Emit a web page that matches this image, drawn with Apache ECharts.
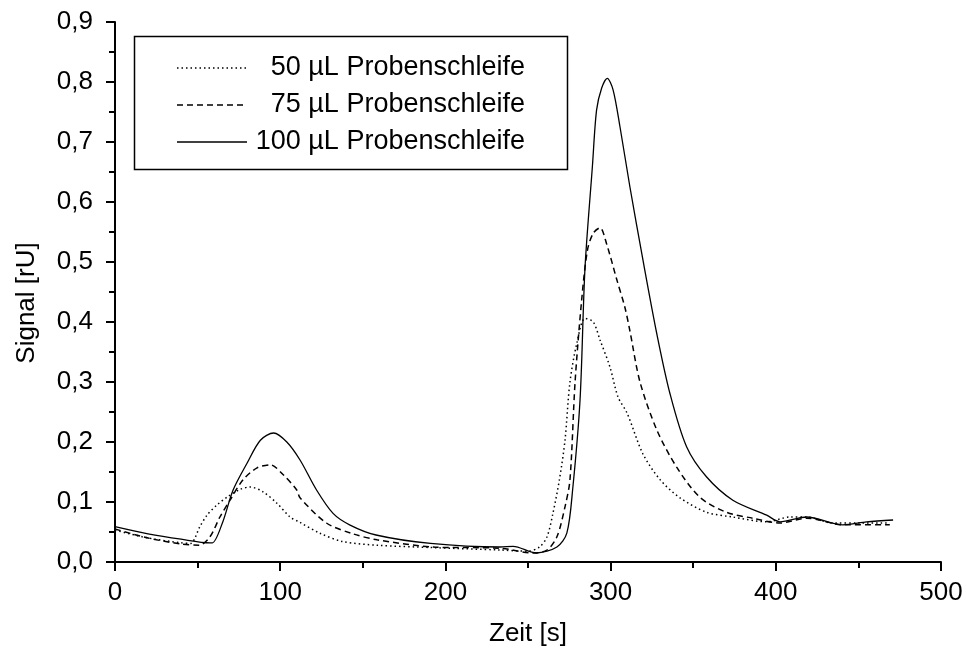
<!DOCTYPE html>
<html><head><meta charset="utf-8">
<script src="https://cdn.jsdelivr.net/npm/echarts@6/dist/echarts.min.js"></script>
<style>html,body{margin:0;padding:0;background:#fff}#c{width:967px;height:655px}</style>
</head><body><div id="c"></div>
<script>
const seriesNames = ['50 µL Probenschleife', '75 µL Probenschleife', '100 µL Probenschleife'];
const xTicks = [0, 100, 200, 300, 400, 500];
const yTicks = [0, 0.1, 0.2, 0.3, 0.4, 0.5, 0.6, 0.7, 0.8, 0.9];

const t50 = [0, 20, 40, 46, 48.4, 51, 55.7, 61.7, 67.8, 75.7, 81.7, 89.6, 98, 106, 112, 124, 138, 158.6, 192.5, 233, 250, 257, 261.5, 265, 269, 272.4, 275.4, 279.6, 284.5, 289.5, 293.6, 299.6, 304.5, 310, 319.6, 330, 342, 358, 374, 394.5, 408.6, 418.7, 434.6, 451, 469];
const v50 = [0.053, 0.040, 0.032, 0.031, 0.040, 0.057, 0.078, 0.095, 0.108, 0.121, 0.125, 0.117, 0.098, 0.075, 0.066, 0.048, 0.034, 0.028, 0.024, 0.020, 0.018, 0.025, 0.042, 0.080, 0.137, 0.203, 0.300, 0.365, 0.406, 0.400, 0.370, 0.325, 0.275, 0.248, 0.180, 0.137, 0.107, 0.083, 0.075, 0.067, 0.075, 0.075, 0.065, 0.065, 0.065];

const t75 = [0, 20, 40, 51, 57.5, 63.5, 69.6, 77.5, 86, 94, 102, 110, 112, 128, 144, 158.6, 192.5, 233, 253, 261.5, 267.5, 272.4, 275.4, 278.5, 282.5, 286, 289.5, 293.6, 297.6, 303.6, 308.6, 311.7, 317.8, 328, 340, 354, 370, 386, 402.5, 418.7, 440.6, 469];
const v75 = [0.055, 0.040, 0.030, 0.028, 0.042, 0.075, 0.103, 0.137, 0.157, 0.162, 0.145, 0.120, 0.107, 0.065, 0.047, 0.037, 0.025, 0.023, 0.015, 0.020, 0.042, 0.092, 0.137, 0.300, 0.437, 0.520, 0.548, 0.557, 0.530, 0.472, 0.425, 0.385, 0.300, 0.220, 0.158, 0.108, 0.083, 0.073, 0.065, 0.073, 0.062, 0.062];

const t100 = [0, 20, 40, 57.5, 59, 65, 71.5, 80, 88, 96, 104, 112, 122, 132, 142, 158, 191, 233, 241, 255, 267.5, 273.5, 277, 281.5, 284.5, 289, 291.5, 294.6, 298, 301.5, 305.7, 311.7, 319.6, 328, 336, 346, 358, 374, 394.5, 402.5, 418.7, 440.6, 455, 471];
const v100 = [0.059, 0.047, 0.038, 0.032, 0.032, 0.065, 0.120, 0.165, 0.203, 0.215, 0.200, 0.170, 0.120, 0.081, 0.062, 0.045, 0.031, 0.025, 0.026, 0.015, 0.025, 0.048, 0.120, 0.270, 0.490, 0.660, 0.753, 0.790, 0.806, 0.787, 0.725, 0.625, 0.503, 0.380, 0.280, 0.192, 0.142, 0.103, 0.078, 0.067, 0.075, 0.062, 0.067, 0.070];

function zip(t, v) { return t.map((x, i) => [x, v[i]]); }
const chart = echarts.init(document.getElementById('c'));
const FONT = 'Liberation Sans, Arial, sans-serif';
const FS = 26;
const lineTypes = [[1.5, 3], [6, 4], 'solid'];
const datas = [zip(t50, v50), zip(t75, v75), zip(t100, v100)];

const legendRows = [68, 105, 142];
const graphic = [{type: 'rect', shape: {x: 134.5, y: 36.5, width: 433, height: 133}, style: {fill: 'none', stroke: '#000', lineWidth: 1.5}, silent: true}];
seriesNames.forEach((n, i) => {
  graphic.push({type: 'line', shape: {x1: 177, y1: legendRows[i], x2: 247, y2: legendRows[i]}, style: {stroke: '#000', lineWidth: 1.3, lineDash: i === 2 ? null : lineTypes[i]}, silent: true});
  graphic.push({type: 'text', x: 525, y: legendRows[i], style: {text: n, font: '27px ' + FONT, fill: '#000', align: 'right', verticalAlign: 'middle'}, silent: true});
});

chart.setOption({
  animation: false,
  backgroundColor: '#fff',
  grid: {left: 115, right: 26, top: 22, bottom: 93, containLabel: false},
  xAxis: {
    type: 'value', min: xTicks[0], max: xTicks[xTicks.length - 1], interval: 100,
    name: 'Zeit [s]', nameLocation: 'middle', nameGap: 59,
    nameTextStyle: {fontSize: FS, fontFamily: FONT, color: '#000'},
    axisLine: {show: true, lineStyle: {color: '#000', width: 2}},
    axisTick: {show: true, inside: false, length: 9, lineStyle: {color: '#000', width: 2}},
    minorTick: {show: true, splitNumber: 2, length: 6, lineStyle: {color: '#000', width: 2}},
    axisLabel: {fontSize: FS, fontFamily: FONT, color: '#000', margin: 18},
    splitLine: {show: false}
  },
  yAxis: {
    type: 'value', min: yTicks[0], max: yTicks[yTicks.length - 1], interval: 0.1,
    name: 'Signal [rU]', nameLocation: 'middle', nameGap: 75,
    nameTextStyle: {fontSize: FS, fontFamily: FONT, color: '#000', padding: [0, 22, 0, 0]},
    axisLine: {show: true, lineStyle: {color: '#000', width: 2}},
    axisTick: {show: true, inside: false, length: 9, lineStyle: {color: '#000', width: 2}},
    minorTick: {show: true, splitNumber: 2, length: 6, lineStyle: {color: '#000', width: 2}},
    axisLabel: {fontSize: FS, fontFamily: FONT, color: '#000', margin: 22,
      formatter: v => v.toFixed(1).replace('.', ',')},
    splitLine: {show: false}
  },
  series: seriesNames.map((n, i) => ({
    name: n, type: 'line', data: datas[i], showSymbol: false, smooth: 0.3,
    lineStyle: {color: '#000', width: i === 2 ? 1.3 : 1.5, type: lineTypes[i]},
    z: 3 - i
  })),
  graphic: graphic
});
</script></body></html>
